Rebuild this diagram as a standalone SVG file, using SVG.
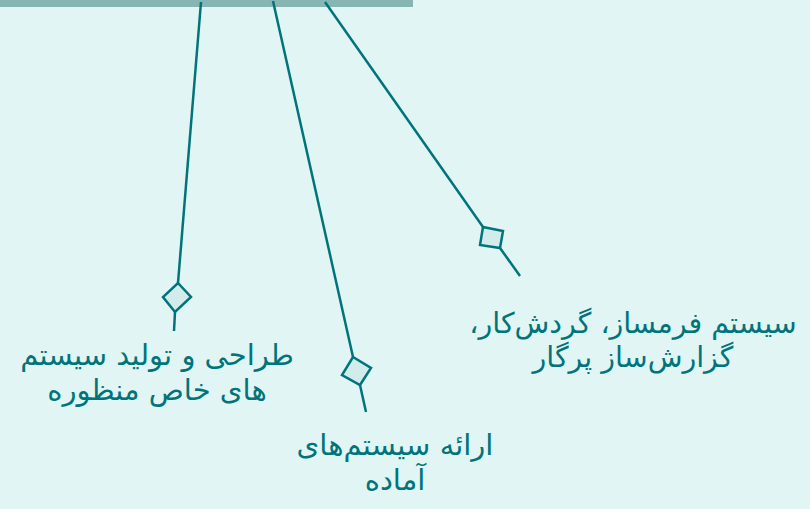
<svg xmlns="http://www.w3.org/2000/svg" width="810" height="509" viewBox="0 0 810 509">
<style>
.ln{stroke:#00747a;stroke-width:2.5;fill:none}
.dm{stroke:#00747a;stroke-width:2.5;fill:#d2ecec}
.t{font-family:"DejaVu Sans",sans-serif;font-size:29px;fill:#00747a;text-anchor:middle;direction:rtl}
.t3{font-size:28.5px}
</style>
<rect x="0" y="0" width="810" height="509" fill="#e1f6f4"/>
<rect x="0" y="0" width="413" height="7" fill="#86b5b3"/>
<g id="connectors">
<path class="ln" d="M201,2 L178,283"/>
<path class="ln" d="M175,312 L174,331"/>
<path class="ln" d="M273,1 L353,357"/>
<path class="ln" d="M360,385 L366,412"/>
<path class="ln" d="M325,2 L483,227"/>
<path class="ln" d="M500,248 L520,276"/>
</g>
<g id="node1">
<path class="dm" d="M178,283 L191,297 L175,312 L163,297 Z"/>
<text class="t" x="157" y="365">طراحی و تولید سیستم</text>
<text class="t" x="157" y="400">های خاص منظوره</text>
</g>
<g id="node2">
<path class="dm" d="M353,357 L371,368 L360,385 L342,375 Z"/>
<text class="t" x="395" y="455">ارائه سیستم‌های</text>
<text class="t" x="395" y="490">آماده</text>
</g>
<g id="node3">
<path class="dm" d="M483,227 L503,231 L500,248 L480,245 Z"/>
<text class="t t3" x="633" y="333">سیستم فرمساز، گردش‌کار،</text>
<text class="t t3" x="633" y="367">گزارش‌ساز پرگار</text>
</g>
</svg>
